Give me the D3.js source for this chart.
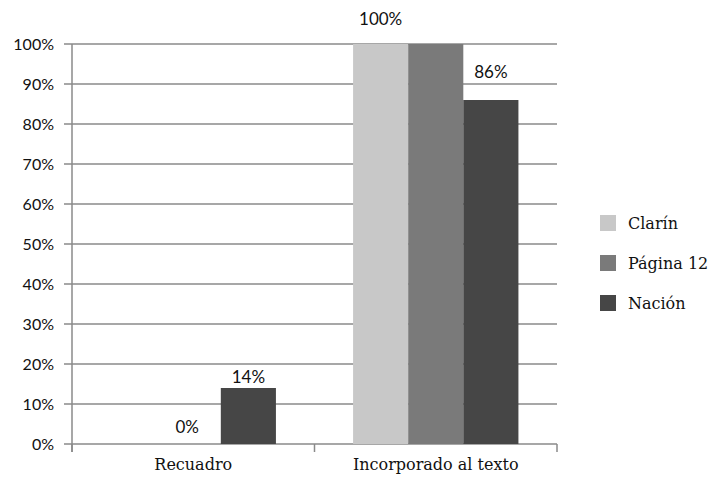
<!DOCTYPE html>
<html>
<head>
<meta charset="utf-8">
<script src="https://cdn.jsdelivr.net/npm/d3@7"></script>
<style>
  body { margin: 0; background: #fff; }
  .tick-label { font-family: "Lato", "Liberation Sans", sans-serif; font-size: 16px; fill: #111; }
  .value-label { font-family: "Lato", "Liberation Sans", sans-serif; font-size: 17px; fill: #111; }
  .serif { font-family: "DejaVu Serif", "Liberation Serif", serif; font-size: 16px; fill: #111; }
</style>
</head>
<body>
<div id="chart"></div>
<script>
const categories = ["Recuadro", "Incorporado al texto"];
const seriesNames = ["Clarín", "Página 12", "Nación"];
const clarin = [0, 100];
const pagina = [0, 100];
const nacion = [14, 86];
const tickValues = [0, 10, 20, 30, 40, 50, 60, 70, 80, 90, 100];
const colors = ["#c8c8c8", "#7a7a7a", "#464646"];

const width = 715;
const height = 477;
const margin = { top: 44, right: 158, bottom: 33, left: 72 };

const series = [clarin, pagina, nacion];

const svg = d3.select("#chart").append("svg")
  .attr("width", width)
  .attr("height", height);

const x = d3.scaleBand()
  .domain(categories)
  .range([margin.left, width - margin.right]);

const x1 = d3.scaleBand()
  .domain(seriesNames)
  .range([0, x.bandwidth()])
  .paddingOuter(0.7);

const y = d3.scaleLinear()
  .domain([0, 100])
  .range([height - margin.bottom, margin.top]);

// gridlines + y ticks
svg.append("g")
  .selectAll("line")
  .data(tickValues)
  .enter()
  .append("line")
  .attr("x1", margin.left - 8)
  .attr("x2", width - margin.right)
  .attr("y1", (d) => y(d))
  .attr("y2", (d) => y(d))
  .attr("stroke", "#8a8a8a")
  .attr("stroke-width", 1.5);

svg.append("g")
  .selectAll("text")
  .data(tickValues)
  .enter()
  .append("text")
  .attr("class", "tick-label")
  .attr("x", margin.left - 18)
  .attr("y", (d) => y(d) + 6)
  .attr("text-anchor", "end")
  .text((d) => d + "%");

// bars
const group = svg.selectAll(".group")
  .data(categories)
  .enter()
  .append("g")
  .attr("transform", (d) => `translate(${x(d)},0)`);

group.selectAll("rect")
  .data((d, i) => seriesNames.map((s, j) => ({ s, j, v: series[j][i] })))
  .enter()
  .append("rect")
  .attr("x", (d) => x1(d.s))
  .attr("width", x1.bandwidth())
  .attr("y", (d) => y(d.v))
  .attr("height", (d) => y(0) - y(d.v))
  .attr("fill", (d) => colors[d.j]);

// value labels
const labels = [
  { c: 0, s: 1, v: 0, dy: -11 },
  { c: 0, s: 2, v: 14, dy: -5 },
  { c: 1, s: 0, v: 100, dy: -19 },
  { c: 1, s: 2, v: 86, dy: -22 }
];
svg.append("g")
  .selectAll("text")
  .data(labels)
  .enter()
  .append("text")
  .attr("class", "value-label")
  .attr("text-anchor", "middle")
  .attr("x", (d) => x(categories[d.c]) + x1(seriesNames[d.s]) + x1.bandwidth() / 2 - (d.v === 0 ? 6 : 0))
  .attr("y", (d) => y(d.v) + d.dy)
  .text((d) => d.v + "%");

// axes lines
svg.append("line")
  .attr("x1", margin.left).attr("x2", margin.left)
  .attr("y1", margin.top).attr("y2", y(0) + 8)
  .attr("stroke", "#8a8a8a").attr("stroke-width", 1.5);

svg.append("g")
  .selectAll("line")
  .data([margin.left, x(categories[1]), width - margin.right])
  .enter()
  .append("line")
  .attr("x1", (d) => d).attr("x2", (d) => d)
  .attr("y1", y(0)).attr("y2", y(0) + 8)
  .attr("stroke", "#8a8a8a").attr("stroke-width", 1.5);

svg.append("g")
  .selectAll("text")
  .data(categories)
  .enter()
  .append("text")
  .attr("class", "serif")
  .attr("text-anchor", "middle")
  .attr("x", (d) => x(d) + x.bandwidth() / 2)
  .attr("y", y(0) + 26)
  .text((d) => d);

// legend
const legend = svg.append("g")
  .selectAll("g")
  .data(seriesNames)
  .enter()
  .append("g")
  .attr("transform", (d, i) => `translate(600, ${215 + i * 40})`);

legend.append("rect")
  .attr("width", 16)
  .attr("height", 16)
  .attr("fill", (d, i) => colors[i]);

legend.append("text")
  .attr("class", "serif")
  .attr("x", 28)
  .attr("y", 14)
  .text((d) => d);
</script>
</body>
</html>
